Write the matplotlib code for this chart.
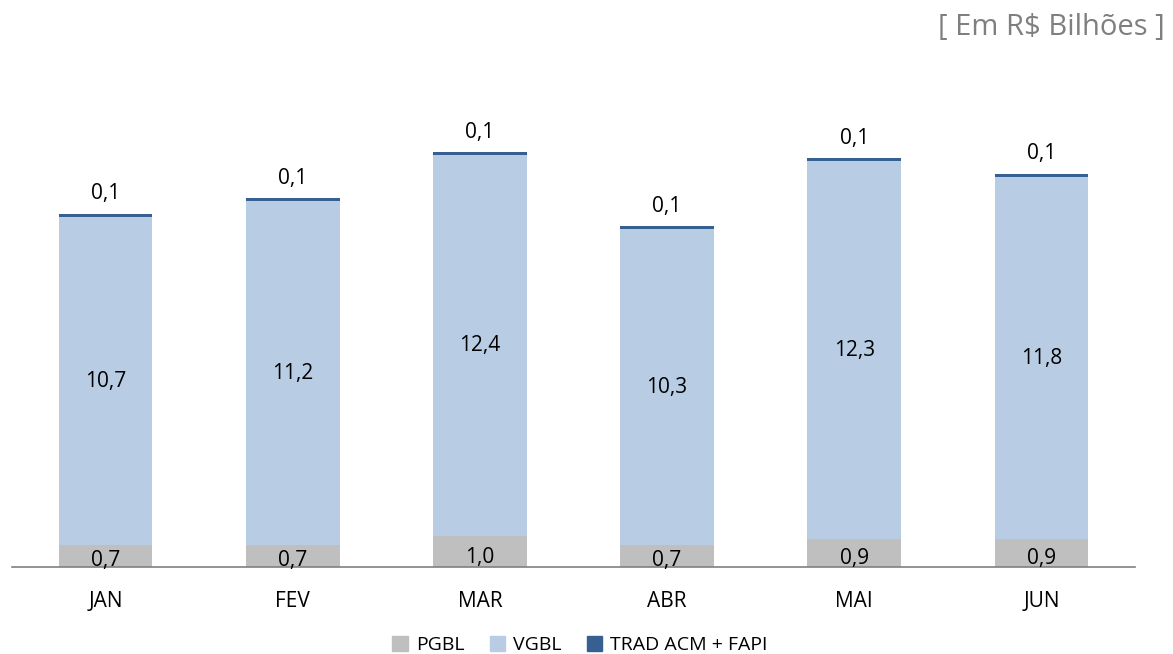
import matplotlib.pyplot as plt
from matplotlib.patches import Patch

meses = ["JAN", "FEV", "MAR", "ABR", "MAI", "JUN"]
pgbl = [0.7, 0.7, 1.0, 0.7, 0.9, 0.9]
vgbl = [10.7, 11.2, 12.4, 10.3, 12.3, 11.8]
trad = [0.1, 0.1, 0.1, 0.1, 0.1, 0.1]

pgbl_lbl = ["0,7", "0,7", "1,0", "0,7", "0,9", "0,9"]
vgbl_lbl = ["10,7", "11,2", "12,4", "10,3", "12,3", "11,8"]
trad_lbl = ["0,1"] * 6

c_pgbl = "#bfbfbf"
c_vgbl = "#b8cce4"
c_trad = "#376092"

plt.rcParams["font.family"] = ["Open Sans", "DejaVu Sans"]

fig = plt.figure(figsize=(11.73, 6.54), dpi=100)
ax = fig.add_axes([12 / 1173, 1 - 567 / 654, 1123 / 1173, 461 / 654])

x = range(len(meses))
w = 0.5
ax.bar(x, pgbl, w, color=c_pgbl)
ax.bar(x, vgbl, w, bottom=pgbl, color=c_vgbl)
bot2 = [p + v for p, v in zip(pgbl, vgbl)]
ax.bar(x, trad, w, bottom=bot2, color=c_trad)

for i in x:
    ax.text(i, pgbl[i] * 0.3, pgbl_lbl[i], ha="center", va="center", fontsize=15)
    ax.text(i, pgbl[i] + vgbl[i] / 2, vgbl_lbl[i], ha="center", va="center", fontsize=15)
    ax.text(i, bot2[i] + trad[i] + 0.3, trad_lbl[i], ha="center", va="bottom", fontsize=15)

ax.set_xlim(-0.5, 5.5)
ax.set_ylim(0, 15)
for s in ["top", "right", "left"]:
    ax.spines[s].set_visible(False)
ax.spines["bottom"].set_color("#808080")
ax.spines["bottom"].set_linewidth(1.2)
ax.set_yticks([])
ax.set_xticks(list(x))
ax.set_xticklabels(meses, fontsize=15)
ax.tick_params(axis="x", length=0, pad=17)

handles = [Patch(color=c_pgbl, label="PGBL"), Patch(color=c_vgbl, label="VGBL"),
           Patch(color=c_trad, label="TRAD ACM + FAPI")]
fig.legend(handles=handles, loc="center", bbox_to_anchor=(580 / 1173, 1 - 645 / 654),
           ncol=3, frameon=False, fontsize=14, handlelength=0.8, handleheight=0.8,
           handletextpad=0.4, columnspacing=1.3)

fig.text(1165 / 1173, 1 - 28 / 654, "[ Em R$ Bilhões ]", ha="right", va="center",
         fontsize=21, color="#7f7f7f")

fig.savefig("out.png", dpi=100)
